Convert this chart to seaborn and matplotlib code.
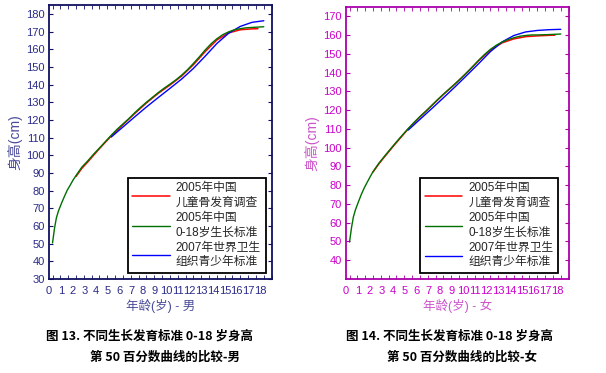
import numpy as np
import pandas as pd
import seaborn as sb
import matplotlib.pyplot as plt
from matplotlib.ticker import MultipleLocator

# 男孩 - 2005年中国 0-18岁生长标准 (第50百分位)
age_cn = [0, 0.17, 0.33, 0.5, 0.75, 1, 1.25, 1.5, 1.75, 2, 2.5, 3, 3.5, 4, 4.5, 5, 5.5, 6, 6.5,
          7, 7.5, 8, 8.5, 9, 9.5, 10, 10.5, 11, 11.5, 12, 12.5, 13, 13.5, 14, 14.5, 15,
          15.5, 16, 16.5, 17, 18]
boys_cn = [50.4, 58.7, 64.6, 68.4, 72.6, 76.5, 80.2, 83.0, 86.0, 88.5, 93.3, 96.8, 100.6, 104.1,
           107.7, 111.3, 114.7, 117.7, 120.7, 124.0, 127.1, 130.0, 132.7, 135.4, 137.9, 140.2,
           142.6, 145.3, 148.4, 151.9, 155.6, 159.5, 163.0, 165.9, 168.2, 169.8, 171.0, 171.6,
           172.1, 172.3, 172.7]
girls_cn = [49.7, 57.4, 63.1, 66.8, 71.0, 75.0, 78.5, 81.5, 84.4, 87.2, 91.7, 95.6, 99.4, 103.1,
            106.7, 110.2, 113.5, 116.6, 119.4, 122.5, 125.6, 128.5, 131.3, 134.1, 137.0, 140.1,
            143.3, 146.6, 149.7, 152.4, 154.6, 156.3, 157.6, 158.6, 159.4, 159.8, 160.1, 160.1,
            160.2, 160.3, 160.6]

# 儿童骨发育调查
age_bone = [2, 2.5, 3, 4, 5, 6, 7, 8, 9, 10, 11, 12, 13, 14, 15, 16, 17, 17.5]
boys_bone = [88.0, 92.6, 96.2, 103.8, 110.9, 117.3, 123.6, 129.6, 135.0, 139.7, 144.8, 151.2,
             158.6, 165.2, 169.2, 171.0, 171.5, 171.6]
girls_bone = [87.0, 91.4, 95.3, 102.8, 110.0, 116.4, 122.4, 128.4, 134.0, 140.0, 146.4, 152.0,
              155.9, 158.0, 159.2, 159.6, 159.9, 160.0]

# 2007年世界卫生组织青少年标准
age_who = [5, 6, 7, 8, 9, 10, 11, 12, 13, 14, 15, 16, 17, 18]
boys_who = [110.3, 116.0, 121.7, 127.3, 132.6, 137.8, 143.1, 149.1, 156.0, 163.2, 169.0,
            172.9, 175.2, 176.1]
girls_who = [109.4, 115.1, 120.8, 126.6, 132.5, 138.6, 144.8, 151.2, 156.4, 159.8, 161.7,
             162.5, 162.9, 163.1]

labels = ["2005年中国\n儿童骨发育调查", "2005年中国\n0-18岁生长标准", "2007年世界卫生\n组织青少年标准"]
colors = ["#ff0000", "#007000", "#0000ff"]

sb.set_style("white")
plt.rcParams['font.family'] = ['Liberation Sans', 'Noto Sans CJK SC', 'DejaVu Sans']

fig = plt.figure(figsize=(6.06, 3.73), dpi=100)
ax1 = fig.add_axes([49 / 606, 94 / 373, 223 / 606, 274 / 373])
ax2 = fig.add_axes([346 / 606, 94 / 373, 223 / 606, 272 / 373])


def draw(ax, bone, cn, who, ylim, yticks, tick_c, spine_c, lab_c, xlab, leg_x):
    sb.lineplot(x=age_bone, y=bone, ax=ax, color=colors[0], lw=1.1, label=labels[0], zorder=2)
    sb.lineplot(x=age_cn, y=cn, ax=ax, color=colors[1], lw=1.0, label=labels[1], zorder=3)
    sb.lineplot(x=age_who, y=who, ax=ax, color=colors[2], lw=1.0, label=labels[2], zorder=2)
    ax.set_xlim(0, 18.7)
    ax.set_ylim(*ylim)
    ax.set_xticks([i - 0.3 for i in range(0, 19)], [str(i) for i in range(0, 19)])
    ax.set_yticks(yticks)
    ax.xaxis.set_minor_locator(MultipleLocator(2 / 3))
    ax.tick_params(axis='x', which='major', length=0, pad=5, labelsize=8, labelcolor=tick_c)
    ax.tick_params(axis='x', which='minor', length=3, direction='in', top=True, bottom=True,
                   color=spine_c)
    ax.tick_params(axis='y', which='major', length=3, direction='in', left=True, right=True,
                   labelsize=8, labelcolor=tick_c, color=spine_c, pad=3)
    for s in ax.spines.values():
        s.set_color(spine_c)
        s.set_linewidth(1.3)
    ax.set_xlabel(xlab, color=lab_c, fontsize=9, labelpad=2)
    ax.set_ylabel("身高(cm)", color=lab_c, fontsize=10, labelpad=3)
    leg = ax.legend(loc='lower right', bbox_to_anchor=(leg_x, 0.022), borderaxespad=0,
                    fontsize=8.5, handlelength=3.2, handletextpad=0.5, labelspacing=0.3,
                    fancybox=False, framealpha=1, edgecolor='black', borderpad=0.4)
    leg.get_frame().set_linewidth(1.3)
    for t in leg.get_texts():
        t.set_linespacing(1.25)


draw(ax1, boys_bone, boys_cn, boys_who, (30, 185), range(30, 181, 10),
     "#2a2a8a", "#101060", "#4a4a9a", "年龄(岁) - 男", 0.972)
draw(ax2, girls_bone, girls_cn, girls_who, (30, 175), range(40, 171, 10),
     "#cc00cc", "#aa00aa", "#cc55cc", "年龄(岁) - 女", 0.951)

cap = dict(fontsize=9, fontweight='bold', color='black', ha='center', va='center',
           family=['Noto Sans CJK SC', 'DejaVu Sans'])
fig.text(150 / 606, 1 - 336 / 373, "图 13. 不同生长发育标准 0-18 岁身高", **cap)
fig.text(165 / 606, 1 - 357 / 373, "第 50 百分数曲线的比较-男", **cap)
fig.text(449 / 606, 1 - 336 / 373, "图 14. 不同生长发育标准 0-18 岁身高", **cap)
fig.text(462 / 606, 1 - 357 / 373, "第 50 百分数曲线的比较-女", **cap)

fig.savefig("out.png", dpi=100)
